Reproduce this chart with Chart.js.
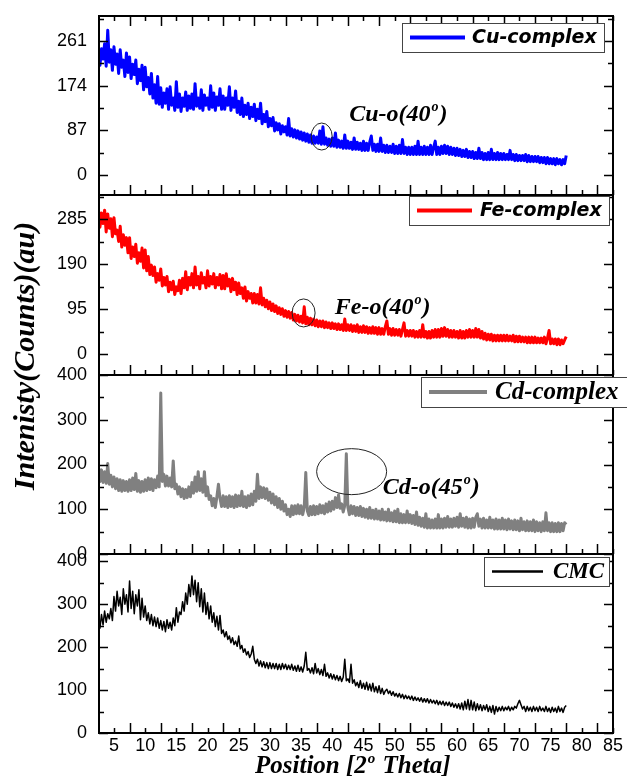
<!DOCTYPE html>
<html>
<head>
<meta charset="utf-8">
<script src="https://cdn.jsdelivr.net/npm/chart.js@4.4.0/dist/chart.umd.min.js"></script>
<style>
  html, body { margin: 0; padding: 0; background: #fff; }
  #wrap { position: relative; width: 627px; height: 779px; }
</style>
</head>
<body>
<div id="wrap"><canvas id="xrd" width="627" height="779"></canvas></div>
<script>
// 2-theta sampling: starts at 2.5 deg, one reading every 0.25 deg (each row = 5 deg)
const thetaStart = 2.5;
const thetaStep = 0.25;

const seriesNames = ['Cu-complex', 'Fe-complex', 'Cd-complex', 'CMC'];

const cuCounts = [
  250, 214, 246, 226, 256, 212, 282, 220, 244, 204, 250, 216, 236, 198, 244, 210, 224, 192, 238, 200,   // 2.5
  230, 188, 216, 196, 224, 178, 206, 184, 214, 166, 210, 172, 190, 158, 198, 150, 176, 140, 192, 138,   // 7.5
  170, 132, 160, 140, 168, 128, 172, 136, 150, 126, 182, 132, 158, 124, 150, 134, 162, 126, 154, 130,   // 12.5
  158, 128, 178, 134, 150, 130, 166, 126, 156, 136, 150, 128, 174, 132, 160, 126, 152, 136, 168, 128,   // 17.5
  154, 128, 150, 136, 172, 126, 150, 132, 164, 122, 144, 118, 150, 114, 136, 118, 140, 110, 132, 114,   // 22.5
  138, 106, 128, 110, 140, 100, 118, 104, 124, 94, 110, 96, 112, 86, 102, 88, 100, 80, 96, 84,          // 27.5
  94, 78, 110, 76, 90, 74, 88, 72, 86, 70, 84, 68, 82, 66, 80, 64, 78, 62, 76, 62,                      // 32.5
  74, 62, 86, 60, 94, 60, 72, 58, 70, 56, 72, 56, 82, 54, 68, 54, 66, 52, 78, 52,                       // 37.5
  66, 52, 64, 50, 72, 50, 64, 50, 62, 48, 66, 48, 62, 48, 64, 76, 48, 60, 46, 60,                       // 42.5
  46, 72, 46, 58, 44, 58, 44, 56, 44, 60, 42, 56, 42, 58, 42, 69, 42, 54, 40, 54,                       // 47.5
  40, 54, 40, 56, 40, 66, 40, 54, 40, 56, 40, 54, 40, 58, 40, 54, 66, 40, 54, 40,                       // 52.5
  56, 42, 58, 42, 56, 40, 54, 40, 52, 38, 52, 38, 50, 36, 48, 36, 50, 34, 46, 34,                       // 57.5
  46, 32, 44, 32, 52, 32, 44, 30, 42, 30, 44, 30, 50, 30, 42, 30, 44, 30, 42, 30,                       // 62.5
  42, 30, 40, 30, 48, 30, 40, 28, 40, 28, 38, 28, 38, 28, 40, 26, 38, 26, 36, 26,                       // 67.5
  36, 26, 36, 24, 34, 24, 34, 22, 34, 22, 32, 22, 32, 20, 32, 22, 30, 20, 30, 22,                       // 72.5
  38
];

const feCounts = [
  306, 268, 298, 276, 304, 258, 296, 266, 286, 248, 288, 254, 262, 238, 270, 226, 252, 230, 246, 214,
  246, 202, 226, 206, 232, 192, 214, 196, 224, 182, 220, 176, 206, 168, 188, 166, 184, 152, 170, 156,
  180, 144, 162, 146, 164, 132, 152, 136, 154, 126, 142, 134, 156, 128, 160, 140, 174, 136, 162, 146,
  170, 140, 184, 146, 164, 138, 172, 150, 162, 140, 176, 144, 164, 148, 170, 140, 162, 146, 168, 138,
  166, 138, 170, 144, 158, 132, 160, 136, 152, 126, 150, 128, 140, 118, 142, 112, 132, 118, 128, 108,
  128, 108, 126, 106, 140, 104, 118, 100, 114, 96, 110, 92, 106, 90, 102, 86, 98, 84, 96, 80,
  92, 78, 90, 76, 88, 72, 84, 70, 82, 68, 80, 66, 100, 64, 78, 62, 76, 62, 74, 60,
  72, 58, 70, 58, 70, 56, 68, 56, 66, 54, 66, 54, 64, 52, 64, 52, 62, 50, 74, 50,
  62, 50, 62, 48, 60, 48, 62, 46, 58, 46, 60, 46, 58, 44, 56, 44, 58, 44, 56, 42,
  56, 42, 54, 42, 58, 70, 42, 54, 40, 54, 40, 52, 40, 52, 38, 52, 66, 38, 50, 38,
  50, 38, 50, 36, 48, 36, 50, 36, 62, 36, 48, 34, 48, 34, 50, 36, 52, 36, 52, 36,
  54, 38, 56, 38, 52, 36, 50, 36, 50, 36, 48, 34, 50, 34, 48, 34, 50, 36, 52, 36,
  50, 36, 54, 36, 52, 34, 48, 32, 44, 30, 42, 30, 42, 28, 40, 28, 40, 28, 40, 28,
  40, 28, 40, 28, 38, 28, 40, 26, 38, 26, 38, 26, 36, 26, 36, 24, 36, 24, 36, 24,
  36, 24, 34, 24, 34, 24, 36, 22, 34, 50, 22, 32, 22, 32, 20, 32, 20, 30, 22, 30,
  37
];

const cdCounts = [
  196, 162, 188, 160, 184, 158, 202, 156, 176, 150, 172, 146, 168, 142, 166, 140, 164, 142, 162, 140,
  166, 142, 170, 144, 180, 140, 164, 138, 162, 140, 166, 142, 170, 144, 168, 142, 166, 148, 174, 150,
  360, 162, 178, 152, 174, 152, 170, 150, 208, 146, 156, 134, 150, 128, 146, 124, 144, 126, 150, 128,
  160, 136, 172, 140, 184, 142, 168, 138, 184, 130, 150, 122, 130, 108, 124, 104, 128, 156, 124, 106,
  130, 106, 128, 104, 130, 106, 128, 104, 132, 106, 130, 108, 140, 106, 128, 104, 130, 108, 134, 110,
  140, 118, 178, 124, 150, 126, 148, 124, 146, 120, 138, 114, 134, 110, 128, 104, 124, 100, 118, 96,
  110, 88, 100, 84, 108, 88, 108, 90, 110, 90, 108, 88, 104, 182, 96, 86, 106, 88, 108, 88,
  106, 90, 110, 92, 108, 90, 112, 94, 116, 96, 118, 100, 126, 104, 132, 102, 112, 94, 108, 224,
  104, 88, 108, 90, 106, 86, 104, 86, 106, 84, 102, 82, 100, 80, 104, 80, 98, 78, 100, 78,
  96, 76, 100, 76, 94, 74, 100, 74, 92, 72, 96, 72, 100, 70, 90, 70, 88, 70, 96, 70,
  88, 68, 86, 66, 94, 64, 82, 62, 80, 60, 90, 58, 78, 58, 76, 58, 78, 58, 88, 58,
  78, 58, 80, 60, 84, 60, 78, 60, 80, 62, 82, 60, 90, 62, 80, 60, 82, 58, 78, 58,
  80, 60, 82, 90, 62, 78, 58, 80, 58, 76, 58, 82, 58, 76, 56, 78, 56, 76, 56, 80,
  56, 76, 54, 78, 56, 74, 54, 76, 54, 74, 52, 80, 54, 72, 52, 74, 52, 72, 52, 76,
  50, 72, 52, 70, 50, 72, 52, 92, 52, 70, 50, 70, 50, 68, 50, 70, 50, 68, 52, 70,
  66
];

const cmcCounts = [
  270, 244, 276, 252, 284, 258, 278, 266, 290, 262, 318, 284, 330, 296, 316, 276, 336, 300, 322, 282,
  354, 290, 330, 278, 322, 296, 334, 264, 314, 270, 296, 262, 280, 254, 276, 250, 270, 248, 268, 244,
  262, 240, 260, 236, 264, 244, 258, 240, 268, 250, 292, 258, 282, 276, 306, 284, 326, 300, 346, 318,
  366, 322, 356, 306, 350, 294, 336, 282, 326, 276, 304, 266, 296, 258, 280, 248, 272, 240, 274, 232,
  240, 224, 236, 218, 226, 210, 222, 206, 214, 202, 226, 196, 204, 188, 196, 182, 190, 176, 184, 202,
  172, 162, 172, 156, 168, 154, 166, 152, 164, 150, 164, 150, 162, 150, 162, 148, 160, 148, 162, 150,
  160, 148, 158, 148, 160, 146, 156, 144, 158, 144, 154, 142, 156, 188, 146, 150, 140, 152, 138, 162,
  140, 150, 136, 148, 134, 160, 132, 140, 128, 138, 126, 136, 124, 134, 122, 132, 120, 130, 172, 122,
  126, 118, 160, 116, 124, 110, 118, 106, 122, 104, 116, 102, 118, 100, 114, 98, 116, 96, 108, 94,
  110, 92, 104, 90, 98, 102, 92, 98, 88, 96, 86, 92, 84, 92, 82, 90, 80, 88, 80, 86,
  78, 86, 76, 84, 76, 82, 74, 82, 72, 80, 72, 80, 70, 78, 70, 76, 68, 76, 66, 74,
  66, 74, 64, 72, 64, 72, 62, 70, 60, 68, 58, 68, 56, 70, 54, 74, 56, 78, 54, 76,
  54, 72, 52, 68, 54, 66, 52, 64, 54, 66, 50, 62, 48, 64, 44, 62, 50, 60, 52, 62,
  52, 60, 54, 62, 52, 60, 54, 62, 58, 68, 76, 66, 56, 62, 50, 62, 52, 60, 50, 62,
  52, 60, 50, 62, 52, 58, 50, 62, 50, 58, 48, 60, 50, 58, 48, 62, 50, 58, 48, 60,
  64
];

const xTickLabels = [5, 10, 15, 20, 25, 30, 35, 40, 45, 50, 55, 60, 65, 70, 75, 80, 85];
const xLongTicks = [7.5, 12.5, 17.5, 22.5, 27.5, 32.5, 37.5, 42.5, 47.5, 52.5, 57.5, 62.5, 67.5, 72.5, 77.5, 82.5];

const cuTicks = [0, 87, 174, 261];
const cuMinor = [43.5, 130.5, 217.5, 304.5];
const feTicks = [0, 95, 190, 285];
const feMinor = [47.5, 142.5, 237.5, 332.5];
const cdTicks = [0, 100, 200, 300, 400];
const cdMinor = [50, 150, 250, 350];
const cmcTicks = [0, 100, 200, 300, 400];
const cmcMinor = [50, 150, 250, 350];

// panel layout + style (top to bottom)
const panels = [
  { axis: 'yCu', name: seriesNames[0], counts: cuCounts, ticks: cuTicks, minor: cuMinor, min: -39, max: 310, h: 179,
    color: '#0000ff', lw: 3,
    legend: { right: -9, top: 7, w: 202, h: 29, sample: 55, textX: 70, font: 'italic bold 19px "DejaVu Sans"' } },
  { axis: 'yFe', name: seriesNames[1], counts: feCounts, ticks: feTicks, minor: feMinor, min: -44, max: 336, h: 180,
    color: '#ff0000', lw: 3,
    legend: { right: -4, top: 1, w: 200, h: 29, sample: 55, textX: 71, font: 'italic bold 19px "DejaVu Sans"' } },
  { axis: 'yCd', name: seriesNames[2], counts: cdCounts, ticks: cdTicks, minor: cdMinor, min: 0, max: 400, h: 179,
    color: '#808080', lw: 3,
    legend: { right: 14, top: 2, w: 206, h: 30, sample: 58, textX: 74, font: 'italic bold 25px "Liberation Serif"' } },
  { axis: 'yCmc', name: seriesNames[3], counts: cmcCounts, ticks: cmcTicks, minor: cmcMinor, min: 0, max: 417, h: 179,
    color: '#000000', lw: 1.5,
    legend: { right: -4, top: 3, w: 125, h: 29, sample: 51, textX: 69, font: 'italic bold 23px "Liberation Serif"' } }
];

// circled peaks, given in data coordinates
const peakNotes = [
  { axis: 'yCu', at: [38.3, 75], rx: 10.5, ry: 13.5, text: ['Cu-o(40', 'o', ')'], textAt: [42.7, 105] },
  { axis: 'yFe', at: [35.4, 87], rx: 11.5, ry: 14, text: ['Fe-o(40', 'o', ')'], textAt: [40.4, 85] },
  { axis: 'yCd', at: [43.1, 184], rx: 35, ry: 23, text: ['Cd-o(45', 'o', ')'], textAt: [48.1, 134.5] }
];

const SERIF = '"Liberation Serif", "Times New Roman", serif';

function drawSup(ctx, x, y, parts, size) {
  ctx.font = `italic bold ${size}px ${SERIF}`;
  ctx.fillText(parts[0], x, y);
  x += ctx.measureText(parts[0]).width;
  const small = Math.round(size * 0.6);
  ctx.font = `italic bold ${small}px ${SERIF}`;
  ctx.fillText(parts[1], x + 1, y - size * 0.42);
  x += ctx.measureText(parts[1]).width + 2;
  ctx.font = `italic bold ${size}px ${SERIF}`;
  ctx.fillText(parts[2], x, y);
}

const framePlugin = {
  id: 'frames',
  afterDatasetsDraw(chart) {
    const { ctx, chartArea: area, scales } = chart;
    const xs = scales.x;
    ctx.save();
    ctx.strokeStyle = '#000';
    panels.forEach((p, i) => {
      const ys = scales[p.axis];
      ctx.lineWidth = 1.5;
      ctx.beginPath();
      const yTick = (v, len) => {
        const py = Math.round(ys.getPixelForValue(v)) + 0.5;
        ctx.moveTo(area.left, py); ctx.lineTo(area.left + len, py);
        ctx.moveTo(area.right, py); ctx.lineTo(area.right - len, py);
      };
      p.ticks.forEach(v => yTick(v, 9));
      p.minor.forEach(v => yTick(v, 5));
      const xTick = (v, len) => {
        const px = Math.round(xs.getPixelForValue(v)) + 0.5;
        ctx.moveTo(px, ys.bottom); ctx.lineTo(px, ys.bottom - len);
        if (i === 0) { ctx.moveTo(px, ys.top); ctx.lineTo(px, ys.top + len); }
      };
      xLongTicks.forEach(v => xTick(v, 10));
      xTickLabels.forEach(v => xTick(v, 5));
      ctx.stroke();
      ctx.lineWidth = 2;
      ctx.strokeRect(area.left, ys.top, area.right - area.left, ys.bottom - ys.top);
    });
    ctx.restore();
  },
  afterDraw(chart) {
    const { ctx, chartArea: area, scales } = chart;
    const xs = scales.x;
    ctx.save();

    // legends, one boxed entry per panel
    panels.forEach(p => {
      const ys = scales[p.axis];
      const L = p.legend;
      const bx = area.right + L.right - L.w;
      const by = ys.top + L.top;
      ctx.fillStyle = '#fff';
      ctx.fillRect(bx, by, L.w, L.h);
      ctx.strokeStyle = '#444';
      ctx.lineWidth = 1;
      ctx.strokeRect(bx + 0.5, by + 0.5, L.w, L.h);
      ctx.strokeStyle = p.color;
      ctx.lineWidth = p.lw + 1;
      ctx.beginPath();
      ctx.moveTo(bx + 8, by + L.h / 2);
      ctx.lineTo(bx + 8 + L.sample, by + L.h / 2);
      ctx.stroke();
      ctx.fillStyle = '#000';
      ctx.font = L.font;
      ctx.textBaseline = 'middle';
      ctx.fillText(p.name, bx + L.textX, by + L.h / 2 + 1);
    });

    // circled peaks + labels
    ctx.textBaseline = 'alphabetic';
    peakNotes.forEach(n => {
      const ys = scales[n.axis];
      ctx.strokeStyle = '#222';
      ctx.lineWidth = 1;
      ctx.beginPath();
      ctx.ellipse(xs.getPixelForValue(n.at[0]), ys.getPixelForValue(n.at[1]), n.rx, n.ry, 0, 0, Math.PI * 2);
      ctx.stroke();
      ctx.fillStyle = '#000';
      drawSup(ctx, xs.getPixelForValue(n.textAt[0]), ys.getPixelForValue(n.textAt[1]), n.text, 24);
    });

    // axis titles
    ctx.fillStyle = '#000';
    drawSup(ctx, 255, 773, ['Position [2', 'o', ' Theta]'], 25);

    ctx.translate(34, 356);
    ctx.rotate(-Math.PI / 2);
    ctx.textAlign = 'center';
    ctx.font = `italic bold 30px ${SERIF}`;
    ctx.fillText('Intenisty(Counts)(au)', 0, 0);
    ctx.restore();
  }
};

const tickFont = { family: '"Liberation Sans", Arial, sans-serif', size: 18 };

const yScales = {};
panels.forEach((p, i) => {
  yScales[p.axis] = {
    type: 'linear',
    position: 'left',
    stack: 'panels',
    stackWeight: p.h,
    weight: panels.length - i,
    min: p.min,
    max: p.max,
    afterBuildTicks: s => { s.ticks = p.ticks.map(v => ({ value: v })); },
    afterFit: s => { s.width = 99; s.paddingTop = 0; s.paddingBottom = 0; },
    grid: { display: false, drawTicks: false },
    border: { display: false },
    ticks: { autoSkip: false, padding: 12, color: '#000', font: tickFont }
  };
});

new Chart(document.getElementById('xrd'), {
  type: 'line',
  data: {
    datasets: panels.map(p => ({
      label: p.name,
      data: p.counts.map((v, i) => ({ x: thetaStart + i * thetaStep, y: v })),
      yAxisID: p.axis,
      xAxisID: 'x',
      borderColor: p.color,
      borderWidth: p.lw,
      borderJoinStyle: 'round',
      pointRadius: 0,
      tension: 0,
      fill: false
    }))
  },
  options: {
    responsive: false,
    animation: false,
    devicePixelRatio: 1,
    events: [],
    layout: { padding: { left: 0, top: 16, right: 14, bottom: 0 } },
    plugins: { legend: { display: false }, tooltip: { enabled: false } },
    scales: Object.assign({
      x: {
        type: 'linear',
        position: 'bottom',
        min: 2.6,
        max: 85,
        afterBuildTicks: s => { s.ticks = xTickLabels.map(v => ({ value: v })); },
        afterFit: s => { s.height = 46; s.paddingLeft = 0; s.paddingRight = 0; },
        grid: { display: false, drawTicks: false },
        border: { display: false },
        ticks: { autoSkip: false, maxRotation: 0, padding: 2, color: '#000', font: tickFont }
      }
    }, yScales)
  },
  plugins: [framePlugin]
});
</script>
</body>
</html>
